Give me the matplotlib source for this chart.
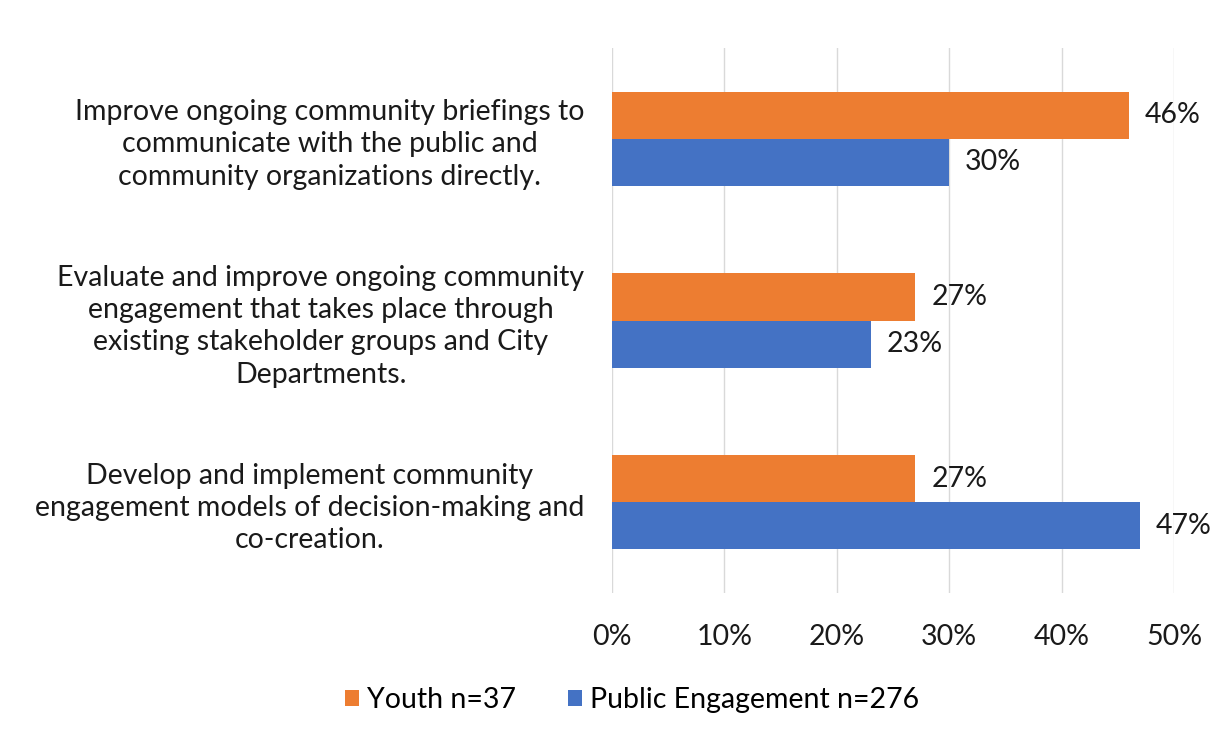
import matplotlib
matplotlib.use("Agg")
import matplotlib.pyplot as plt
import numpy as np

categories = [
    "Improve ongoing community briefings to\ncommunicate with the public and\ncommunity organizations directly.",
    "Evaluate and improve ongoing community\nengagement that takes place through\nexisting stakeholder groups and City\nDepartments.",
    "Develop and implement community\nengagement models of decision-making and\nco-creation.",
]
youth = [46, 27, 27]
public = [30, 23, 47]
series_names = ["Youth n=37", "Public Engagement n=276"]
xticks = [0, 10, 20, 30, 40, 50]

plt.rcParams['font.family'] = ['Lato', 'DejaVu Sans']

fig = plt.figure(figsize=(12.25, 7.45), dpi=100)
ax = fig.add_axes([612/1225, 1-593/745, (1174-612)/1225, (593-48)/745])

y = np.arange(len(categories))
h = 0.26
ax.barh(y - h/2, youth, height=h, color='#ED7D31', label=series_names[0], zorder=3)
ax.barh(y + h/2, public, height=h, color='#4472C4', label=series_names[1], zorder=3)

fs = 20.5
tc = '#1a1a1a'
for yi, v in zip(y, youth):
    ax.text(v + 1.4, yi - h/2, f"{v}%", va='center', ha='left', fontsize=fs, color=tc)
for yi, v in zip(y, public):
    ax.text(v + 1.4, yi + h/2, f"{v}%", va='center', ha='left', fontsize=fs, color=tc)

ax.set_ylim(2.5, -0.5)
ax.set_xlim(0, 50)
ax.set_xticks(xticks)
ax.set_xticklabels([f"{t}%" for t in xticks], fontsize=fs, color=tc)
ax.set_yticks(y)
ax.set_yticklabels(categories, fontsize=fs, color=tc, multialignment='center', linespacing=1.3)
ax.tick_params(axis='both', length=0)
ax.tick_params(axis='x', pad=22)
ax.tick_params(axis='y', pad=20)
for s in ax.spines.values():
    s.set_visible(False)
ax.grid(axis='x', color='#d9d9d9', linewidth=1, zorder=0)

fig.legend(loc='center', bbox_to_anchor=(632/1225, 1-700/745), ncol=2, frameon=False,
           fontsize=fs, handlelength=0.5, handleheight=0.5, handletextpad=0.3, columnspacing=1.8)

fig.savefig("out.png", dpi=100, facecolor='white')
